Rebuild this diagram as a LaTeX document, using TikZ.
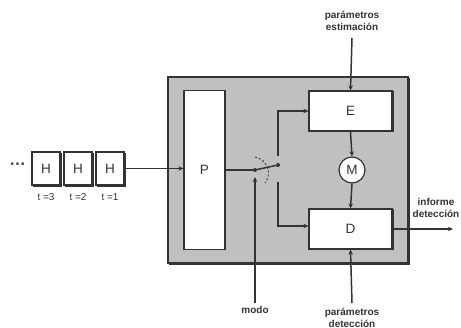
\documentclass[tikz,border=0pt]{standalone}
\usepackage{fontspec}
\setmainfont{Liberation Sans}
\usetikzlibrary{arrows.meta}
\definecolor{ln}{HTML}{333333}
\definecolor{panel}{HTML}{C0C0C0}
\tikzset{
  box/.style={draw=ln,line width=1.2pt,fill=white,inner sep=0pt,font=\fontsize{13.5}{13.5}\selectfont,text=ln},
  wire/.style={draw=ln,line width=1.5pt},
  arr/.style={wire,-{Stealth[length=5pt,width=4.5pt]}},
  lbl/.style={font=\bfseries\fontsize{10}{11.5}\selectfont,text=ln,align=center,inner sep=0pt},
  tlbl/.style={font=\fontsize{10}{10}\selectfont,text=ln,inner sep=0pt},
  dot/.style={circle,fill=ln,inner sep=0pt,minimum size=4pt},
}
\begin{document}
\begin{tikzpicture}[x=1pt,y=-1pt]
\useasboundingbox (0,0) rectangle (461,328);
% panel with shadow
\draw[ln,line width=1.2pt,fill=ln] (169.5,78.5) rectangle (409.5,264.5);
\node[draw=ln,line width=1.2pt,fill=panel,minimum width=240pt,minimum height=186pt,inner sep=0pt] (panel) at (288,170) {};
% boxes
\draw[ln,line width=1.2pt] (309.5,91.5) rectangle (393.5,131.5);
\draw[ln,line width=1.2pt] (309.5,209.5) rectangle (393.5,249.5);
\node[box,minimum width=41pt,minimum height=159pt] (P) at (204.5,170) {P};
\node[box,minimum width=83pt,minimum height=40pt] (E) at (350.5,111) {E};
\node[box,minimum width=83pt,minimum height=40pt] (D) at (350.5,229) {D};
\node[box,circle,minimum size=26pt] (M) at (352,170) {M};
% H boxes
\foreach \n/\x/\t in {H1/46/3,H2/78/2,H3/110/1}{
  \draw[ln,line width=1.2pt] (\x-12.5,153.5) rectangle (\x+15.5,186.5);
  \node[box,minimum width=28pt,minimum height=33pt] (\n) at (\x,168.5) {H};
  \node[tlbl] (t\t) at (\x,197) {t =\t};
}
\node[font=\bfseries\fontsize{16}{16}\selectfont,text=ln,inner sep=0pt] (dots) at (18,166) {···};
% switch
\node[dot] (piv) at (255,170) {};
\node[dot] (bl) at (278,165) {};
\coordinate (ub) at (278,156);
\coordinate (lb) at (278,182);
\draw[arr] (H3.east) -- (H3.east -| P.west);
\draw[wire] (P.east |- piv) -- (piv);
\draw[wire] (piv) -- (bl);
\draw[ln,line width=0.9pt,dash pattern=on 2pt off 2pt] (255,157) .. controls (268,160) and (272,174) .. (265,183);
\draw[arr] (ub) |- (E.west);
\draw[arr] (lb) |- ([yshift=3pt]D.west);
\draw[arr] (E.south) -- (M.north);
\draw[arr] (M.south) -- (D.north);
% external inputs
\coordinate (pe) at (352,38);
\coordinate (pd) at (352,303);
\coordinate (mo) at (255,303);
\coordinate (out) at (453,229);
\draw[arr] (pe) -- (E.north);
\draw[arr] (pd) -- (D.south);
\draw[arr] (mo) -- ([yshift=-7pt]piv.center);
\draw[arr] (D.east) -- (out);
\node[lbl] (lpe) at (352,21) {parámetros\\estimación};
\node[lbl] (lmo) at (255,310) {modo};
\node[lbl] (lpd) at (352,318) {parámetros\\detección};
\node[lbl] (lout) at (436,208) {informe\\detección};
\end{tikzpicture}
\end{document}
